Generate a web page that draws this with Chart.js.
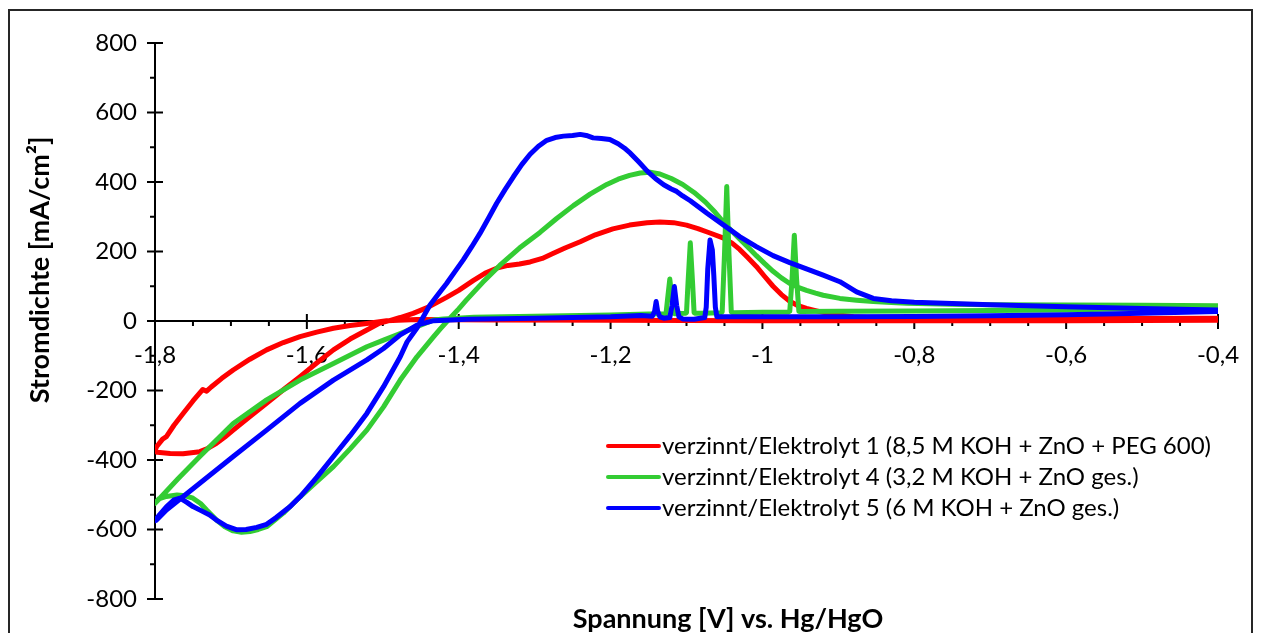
<!DOCTYPE html>
<html>
<head>
<meta charset="utf-8">
<script src="https://cdn.jsdelivr.net/npm/chart.js@4.4.1/dist/chart.umd.min.js"></script>
<style>
    html, body { margin: 0; padding: 0; background: #fff; overflow: hidden; }
    #frame {
        position: absolute; left: 8px; top: 9px; width: 1245px; height: 700px;
        border: 2px solid #262626; box-sizing: border-box;
    }
    #cv { position: absolute; left: 0; top: 0; }
</style>
</head>
<body>
<div id="frame"></div>
<canvas id="cv" width="1261" height="633"></canvas>
<script>
// tick values
const xMajorTicks = [-1.8, -1.6, -1.4, -1.2, -1.0, -0.8, -0.6, -0.4];
const yMajorTicks = [-800, -600, -400, -200, 0, 200, 400, 600, 800];

const seriesNames = [
    "verzinnt/Elektrolyt 1 (8,5 M KOH + ZnO + PEG 600)",
    "verzinnt/Elektrolyt 4 (3,2 M KOH + ZnO ges.)",
    "verzinnt/Elektrolyt 5 (6 M KOH + ZnO ges.)"
];
const seriesColors = ["#ff0000", "#33cc33", "#0000ff"];

// Elektrolyt 1: potential [V] and current density [mA/cm²], in scan order
const e1V = [-0.40, -0.60, -0.80, -1.00, -1.20, -1.35, -1.455, -1.495, -1.521, -1.543, -1.565, -1.587, -1.609,
    -1.631, -1.653, -1.675, -1.697, -1.712, -1.726, -1.732, -1.737, -1.750, -1.763, -1.775, -1.785, -1.790,
    -1.798, -1.800,
    -1.797, -1.780, -1.763, -1.741, -1.730, -1.719, -1.708, -1.697, -1.675, -1.653, -1.631, -1.609, -1.587,
    -1.565, -1.543, -1.521, -1.504, -1.490, -1.477, -1.460, -1.440, -1.416, -1.400, -1.381, -1.365, -1.350,
    -1.335, -1.320, -1.306, -1.290, -1.276, -1.260, -1.240, -1.220, -1.197, -1.175, -1.152, -1.135, -1.117,
    -1.100, -1.085, -1.070, -1.052, -1.040, -1.030, -1.020, -1.008, -0.997, -0.986, -0.975, -0.964, -0.953,
    -0.942, -0.930, -0.920, -0.900, -0.880, -0.850, -0.700, -0.550, -0.400];
const e1J = [2, 1, 1, 1, 2, 3, 4, 1, -7, -13, -21, -32, -45,
    -62, -83, -110, -141, -165, -190, -202, -197, -230, -266, -300, -333, -340,
    -362, -375,
    -378, -381, -382, -376, -366, -352, -334, -314, -275, -237, -198, -160, -121,
    -83, -52, -26, -6, 2, 10, 22, 40, 68, 88, 116, 138, 152,
    160, 164, 170, 180, 194, 210, 228, 248, 265, 276, 283, 285, 283,
    276, 266, 254, 239, 224, 206, 184, 157, 128, 100, 76, 57, 44,
    36, 30, 25, 17, 12, 9, 7, 7, 8];

// Elektrolyt 4
const e4V = [-0.40, -0.50, -0.60, -0.70, -0.80, -0.90, -0.950, -0.952, -0.955, -0.958, -0.961, -0.964,
    -0.966, -1.000, -1.039, -1.041, -1.044, -1.047, -1.050, -1.053, -1.055, -1.080, -1.088, -1.090, -1.092,
    -1.095, -1.098, -1.100, -1.102, -1.115, -1.117, -1.119, -1.122, -1.125, -1.127, -1.150, -1.200, -1.300,
    -1.380, -1.420, -1.433, -1.455, -1.477, -1.499, -1.521, -1.565, -1.609, -1.653, -1.697, -1.741, -1.770,
    -1.785, -1.798, -1.800,
    -1.795, -1.785, -1.771, -1.760, -1.750, -1.740, -1.732, -1.719, -1.708, -1.697, -1.686, -1.675, -1.664,
    -1.653, -1.631, -1.609, -1.587, -1.565, -1.543, -1.521, -1.499, -1.477, -1.455, -1.433, -1.424, -1.415,
    -1.400, -1.390, -1.368, -1.346, -1.320, -1.293, -1.271, -1.249, -1.227, -1.205, -1.190, -1.175, -1.161,
    -1.148, -1.135, -1.120, -1.105, -1.090, -1.075, -1.062, -1.051, -1.040, -1.030, -1.018, -1.008, -0.997,
    -0.986, -0.975, -0.964, -0.953, -0.942, -0.930, -0.920, -0.898, -0.876, -0.854, -0.830, -0.810, -0.750,
    -0.700, -0.600, -0.500, -0.400];
const e4J = [40, 36, 32, 30, 29, 28, 27, 28, 120, 247, 120, 28,
    26, 25, 24, 26, 190, 387, 190, 26, 24, 22, 22, 24, 110,
    225, 110, 24, 22, 21, 22, 62, 121, 62, 21, 20, 17, 14,
    11, 6, 3, -16, -36, -55, -74, -122, -170, -227, -295, -390, -455,
    -490, -520, -525,
    -512, -505, -501, -503, -510, -525, -544, -573, -592, -604, -608, -606, -600,
    -592, -553, -506, -462, -419, -368, -314, -247, -170, -103, -45, -22, 0,
    35, 60, 112, 160, 210, 255, 295, 332, 365, 393, 408, 419, 426,
    428, 423, 410, 393, 370, 342, 312, 284, 258, 236, 210, 188, 165,
    143, 124, 108, 97, 88, 80, 74, 65, 60, 56, 53, 51, 48,
    47, 46, 45, 44];

// Elektrolyt 5
const e5V = [-0.40, -0.50, -0.60, -0.70, -0.80, -0.90, -1.000, -1.060, -1.062, -1.064, -1.066, -1.069,
    -1.072, -1.074, -1.076, -1.090, -1.105, -1.110, -1.113, -1.116, -1.119, -1.122, -1.130, -1.135, -1.138,
    -1.140, -1.142, -1.145, -1.160, -1.200, -1.300, -1.389, -1.433, -1.455, -1.477, -1.499, -1.521, -1.565,
    -1.609, -1.653, -1.697, -1.741, -1.785, -1.798, -1.800,
    -1.795, -1.785, -1.775, -1.767, -1.758, -1.750, -1.740, -1.728, -1.719, -1.706, -1.692, -1.680, -1.666,
    -1.653, -1.640, -1.622, -1.609, -1.587, -1.565, -1.543, -1.521, -1.499, -1.477, -1.468, -1.455, -1.438,
    -1.427, -1.416, -1.405, -1.394, -1.383, -1.372, -1.361, -1.350, -1.339, -1.328, -1.317, -1.306, -1.295,
    -1.284, -1.273, -1.262, -1.250, -1.240, -1.232, -1.223, -1.212, -1.201, -1.190, -1.182, -1.174, -1.163,
    -1.152, -1.141, -1.130, -1.120, -1.113, -1.105, -1.095, -1.073, -1.051, -1.030, -1.008, -0.986, -0.964,
    -0.942, -0.920, -0.898, -0.876, -0.854, -0.830, -0.800, -0.700, -0.600, -0.500, -0.400];
const e5J = [27, 22, 18, 15, 13, 12, 12, 12, 40, 130, 205, 233,
    150, 40, 10, 5, 6, 12, 45, 99, 45, 10, 8, 12, 28,
    56, 28, 14, 16, 12, 8, 5, 1, -12, -40, -79, -112, -170,
    -237, -314, -390, -467, -544, -573, -575,
    -560, -535, -515, -510, -522, -534, -545, -558, -573, -590, -601, -600, -594,
    -585, -565, -534, -506, -450, -390, -330, -266, -189, -103, -60, -20, 45,
    77, 108, 142, 176, 213, 252, 295, 339, 378, 415, 450, 480, 503,
    520, 528, 532, 534, 537, 534, 527, 525, 522, 510, 498, 483, 458,
    432, 410, 392, 380, 373, 360, 346, 310, 276, 243, 214, 188, 168,
    150, 132, 113, 84, 65, 58, 54, 47, 41, 36, 32];

const toPoints = (xs, ys) => xs.map((x, i) => ({ x, y: ys[i] }));

const FONT = "Lato, 'Open Sans', sans-serif";

function formatTick(v) {
    const r = Math.round(v * 10) / 10;
    return String(r).replace(".", ",");
}

// minor/major tick marks, axis titles and legend
const decorations = {
    id: "decorations",
    beforeDatasetsDraw(chart) {
        const { ctx, chartArea, scales } = chart;
        const xs = scales.x, ys = scales.y;
        const y0 = ys.getPixelForValue(0);
        ctx.save();
        ctx.strokeStyle = "#000";
        ctx.lineWidth = 2;
        ctx.beginPath();
        for (let i = 0; i < xMajorTicks.length; i++) {
            const px = xs.getPixelForValue(xMajorTicks[i]);
            ctx.moveTo(px, y0 - 7);
            ctx.lineTo(px, y0 + 8);
            if (i < xMajorTicks.length - 1) {
                const step = (xMajorTicks[i + 1] - xMajorTicks[i]) / 4;
                for (let k = 1; k < 4; k++) {
                    const mx = xs.getPixelForValue(xMajorTicks[i] + step * k);
                    ctx.moveTo(mx, y0);
                    ctx.lineTo(mx, y0 + 5);
                }
            }
        }
        const left = chartArea.left;
        for (let i = 0; i < yMajorTicks.length; i++) {
            const py = ys.getPixelForValue(yMajorTicks[i]);
            ctx.moveTo(left - 8, py);
            ctx.lineTo(left + 8, py);
            if (i < yMajorTicks.length - 1) {
                const my = ys.getPixelForValue((yMajorTicks[i] + yMajorTicks[i + 1]) / 2);
                ctx.moveTo(left - 5, my);
                ctx.lineTo(left, my);
            }
        }
        ctx.stroke();
        ctx.restore();
    },
    afterDraw(chart) {
        const { ctx, chartArea } = chart;
        ctx.save();
        ctx.fillStyle = "#000";
        ctx.textAlign = "center";
        ctx.textBaseline = "middle";
        ctx.font = "bold 27px " + FONT;
        ctx.fillText("Spannung [V] vs. Hg/HgO", chartArea.left + 573, chartArea.bottom + 20);
        ctx.translate(chartArea.left - 115, (chartArea.top + chartArea.bottom) / 2 - 51);
        ctx.rotate(-Math.PI / 2);
        ctx.fillText("Stromdichte [mA/cm²]", 0, 0);
        ctx.restore();

        // legend inside plot
        ctx.save();
        ctx.font = "24px " + FONT;
        ctx.textAlign = "left";
        ctx.textBaseline = "middle";
        ctx.lineCap = "round";
        const lx = chartArea.left + 453, ly = chartArea.top + 403, gap = 31;
        seriesNames.forEach((name, i) => {
            const y = ly + i * gap;
            ctx.strokeStyle = seriesColors[i];
            ctx.lineWidth = 4;
            ctx.beginPath();
            ctx.moveTo(lx, y);
            ctx.lineTo(lx + 51, y);
            ctx.stroke();
            ctx.fillStyle = "#000";
            ctx.fillText(name, lx + 54, y);
        });
        ctx.restore();
    }
};

const allSeries = [toPoints(e1V, e1J), toPoints(e4V, e4J), toPoints(e5V, e5J)];

new Chart(document.getElementById("cv"), {
    type: "scatter",
    data: {
        datasets: allSeries.map((pts, i) => ({
            label: seriesNames[i],
            data: pts,
            showLine: true,
            borderColor: seriesColors[i],
            backgroundColor: seriesColors[i],
            borderWidth: 5,
            borderJoinStyle: "round",
            borderCapStyle: "round",
            pointRadius: 0,
            tension: 0,
            fill: false,
            order: 2 - i
        }))
    },
    options: {
        responsive: false,
        animation: false,
        devicePixelRatio: 1,
        layout: { padding: { left: 0, top: 43, right: 43, bottom: 34 } },
        plugins: {
            legend: { display: false },
            tooltip: { enabled: false }
        },
        scales: {
            x: {
                type: "linear",
                min: -1.8,
                max: -0.4,
                position: { y: 0 },
                afterBuildTicks: (scale) => { scale.ticks = xMajorTicks.map(v => ({ value: v })); },
                ticks: {
                    callback: (v) => formatTick(v),
                    autoSkip: false,
                    maxRotation: 0,
                    padding: 12,
                    color: "#000",
                    font: { family: FONT, size: 24 }
                },
                grid: { drawOnChartArea: false, drawTicks: true, tickLength: 8, tickColor: "rgba(0,0,0,0)" },
                border: { color: "#000", width: 2 }
            },
            y: {
                type: "linear",
                min: -800,
                max: 800,
                afterBuildTicks: (scale) => { scale.ticks = yMajorTicks.map(v => ({ value: v })); },
                afterFit: (scale) => { scale.width = 155; },
                ticks: {
                    autoSkip: false,
                    padding: 10,
                    color: "#000",
                    font: { family: FONT, size: 24 }
                },
                grid: { drawOnChartArea: false, drawTicks: true, tickLength: 8, tickColor: "rgba(0,0,0,0)" },
                border: { color: "#000", width: 2 }
            }
        }
    },
    plugins: [decorations]
});
</script>
</body>
</html>
